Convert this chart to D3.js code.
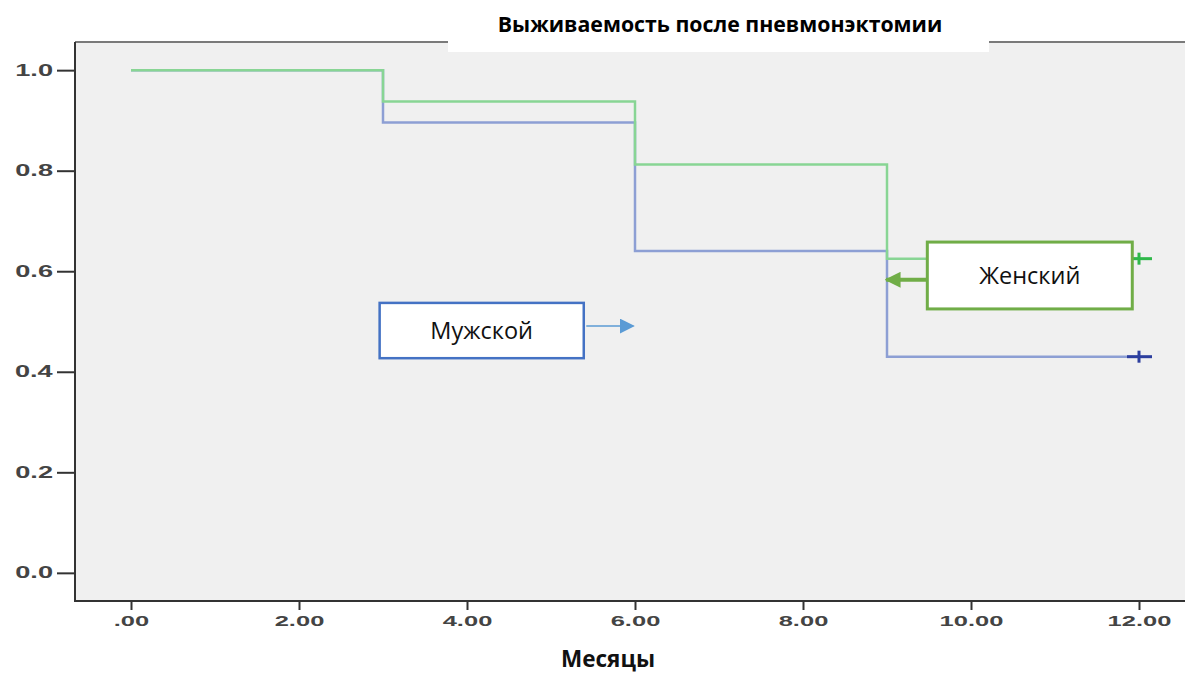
<!DOCTYPE html>
<html>
<head>
<meta charset="utf-8">
<script src="https://cdnjs.cloudflare.com/ajax/libs/d3/7.8.5/d3.min.js"></script>
<style>
  body { margin: 0; background: #fff; }
  .tick text { transform-box: fill-box; }
  .yax .tick text { transform-origin: right center; transform: scaleX(1.7); }
  .xax .tick text { transform-origin: center center; transform: scaleX(1.7); }
</style>
</head>
<body>
<div id="chart"></div>
<script>
// survival data
const months = [0, 3, 6, 9, 12];
const female = [1.0, 0.9375, 0.8125, 0.625, 0.625];
const male = [1.0, 0.896, 0.640, 0.430, 0.430];
const xTicks = [0, 2, 4, 6, 8, 10, 12];
const yTicks = [0, 0.2, 0.4, 0.6, 0.8, 1.0];

const w = 1185;
const h = 673;

const svg = d3.select("#chart")
              .append("svg")
              .attr("width", w)
              .attr("height", h);

// scales (SPSS style padding around the data)
const x = d3.scaleLinear().domain([-2 / 3, 12 + 2 / 3]).range([75, 1195]);
const y = d3.scaleLinear().domain([-0.056, 1.056]).range([601, 42]);

// plot background + frame
svg.append("rect")
   .attr("x", x.range()[0])
   .attr("y", y.range()[1])
   .attr("width", x.range()[1] - x.range()[0])
   .attr("height", y.range()[0] - y.range()[1])
   .attr("fill", "#f0f0f0");

svg.append("line") // top border
   .attr("x1", x.range()[0]).attr("x2", x.range()[1])
   .attr("y1", y.range()[1]).attr("y2", y.range()[1])
   .attr("stroke", "#7a7a7a").attr("stroke-width", 2);

// axes
const yAxis = d3.axisLeft(y)
                .tickValues(yTicks)
                .tickFormat(d3.format(".1f"))
                .tickSize(18)
                .tickPadding(4);
const xAxis = d3.axisBottom(x)
                .tickValues(xTicks)
                .tickFormat(d => d === 0 ? ".00" : d.toFixed(2))
                .tickSize(9)
                .tickPadding(5);

const gy = svg.append("g")
   .attr("class", "yax")
   .attr("transform", `translate(${x.range()[0]},0)`)
   .call(yAxis);
const gx = svg.append("g")
   .attr("class", "xax")
   .attr("transform", `translate(0,${y.range()[0]})`)
   .call(xAxis);

[gy, gx].forEach(g => {
  g.select(".domain").remove();
  g.selectAll(".tick line").attr("stroke", "#333").attr("stroke-width", 2);
  g.selectAll(".tick text")
   .attr("fill", "#444")
   .attr("font-family", "'Liberation Sans', Arial, sans-serif")
   .attr("font-weight", "bold")
   .attr("font-size", 16);
});
gx.selectAll(".tick text").attr("font-size", 15);

// left & bottom axis lines
svg.append("line")
   .attr("x1", x.range()[0]).attr("x2", x.range()[0])
   .attr("y1", y.range()[1]).attr("y2", y.range()[0] + 1)
   .attr("stroke", "#333").attr("stroke-width", 2);
svg.append("line")
   .attr("x1", x.range()[0]).attr("x2", x.range()[1])
   .attr("y1", y.range()[0]).attr("y2", y.range()[0])
   .attr("stroke", "#333").attr("stroke-width", 2);

// step lines
const step = d3.line()
               .x(d => x(d[0]))
               .y(d => y(d[1]))
               .curve(d3.curveStepAfter);

const series = [
  { name: "male", vals: male, line: "#8d9fd4", mark: "#2c3e9e" },
  { name: "female", vals: female, line: "#88d594", mark: "#2fb84a" }
];

series.forEach(s => {
  const pts = months.map((m, i) => [m, s.vals[i]]);
  svg.append("path")
     .datum(pts)
     .attr("d", step)
     .attr("fill", "none")
     .attr("stroke", s.line)
     .attr("stroke-width", 2.5);
});

// censor marks at the last time point
series.forEach(s => {
  const cx = x(months[months.length - 1]);
  const cy = y(s.vals[s.vals.length - 1]);
  const g = svg.append("g").attr("stroke", s.mark).attr("stroke-width", 3);
  g.append("line").attr("x1", cx - 12).attr("x2", cx + 13).attr("y1", cy).attr("y2", cy);
  g.append("line").attr("x1", cx).attr("x2", cx).attr("y1", cy - 6).attr("y2", cy + 6);
});

// title box
svg.append("rect")
   .attr("x", 448).attr("y", 0)
   .attr("width", 541).attr("height", 52)
   .attr("fill", "#fff");
svg.append("text")
   .attr("x", 720).attr("y", 32)
   .attr("text-anchor", "middle")
   .attr("font-family", "'Open Sans', sans-serif")
   .attr("font-weight", "bold")
   .attr("font-size", 21.3)
   .attr("fill", "#000")
   .text("Выживаемость после пневмонэктомии");

// x axis title
svg.append("text")
   .attr("x", 608).attr("y", 667)
   .attr("text-anchor", "middle")
   .attr("font-family", "'Open Sans', sans-serif")
   .attr("font-weight", "bold")
   .attr("font-size", 22.5)
   .attr("fill", "#111")
   .text("Месяцы");

// callout boxes (positions in data units)
const defs = svg.append("defs");
function marker(id, color, size) {
  defs.append("marker")
      .attr("id", id)
      .attr("viewBox", "0 0 10 10")
      .attr("refX", 9).attr("refY", 5)
      .attr("markerUnits", "userSpaceOnUse")
      .attr("markerWidth", size).attr("markerHeight", size)
      .attr("orient", "auto")
      .append("path")
      .attr("d", "M0,0 L10,5 L0,10 Z")
      .attr("fill", color);
}
marker("arrBlue", "#5b9bd5", 15);
marker("arrGreen", "#70ad47", 16);

const callouts = [
  { label: "Мужской", x0: 2.96, x1: 5.39, y0: 0.537, y1: 0.427, color: "#4472c4", bw: 2.5,
    ax: 5.42, ay: 0.491, tx: 5.98, ty: 0.491, acolor: "#5b9bd5", aw: 1.5, m: "arrBlue" },
  { label: "Женский", x0: 9.48, x1: 11.92, y0: 0.658, y1: 0.525, color: "#70ad47", bw: 3,
    ax: 9.48, ay: 0.583, tx: 8.99, ty: 0.583, acolor: "#70ad47", aw: 4, m: "arrGreen" }
];

callouts.forEach(c => {
  svg.append("rect")
     .attr("x", x(c.x0)).attr("y", y(c.y0))
     .attr("width", x(c.x1) - x(c.x0))
     .attr("height", y(c.y1) - y(c.y0))
     .attr("fill", "#fff")
     .attr("stroke", c.color)
     .attr("stroke-width", c.bw);
  svg.append("text")
     .attr("x", (x(c.x0) + x(c.x1)) / 2)
     .attr("y", (y(c.y0) + y(c.y1)) / 2)
     .attr("dy", "0.35em")
     .attr("text-anchor", "middle")
     .attr("font-family", "'Open Sans', sans-serif")
     .attr("font-size", 23.5)
     .attr("fill", "#111")
     .text(c.label);
  svg.append("line")
     .attr("x1", x(c.ax)).attr("y1", y(c.ay))
     .attr("x2", x(c.tx)).attr("y2", y(c.ty))
     .attr("stroke", c.acolor)
     .attr("stroke-width", c.aw)
     .attr("marker-end", `url(#${c.m})`);
});
</script>
</body>
</html>
